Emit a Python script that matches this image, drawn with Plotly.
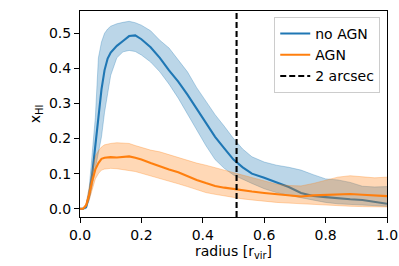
import plotly.graph_objects as go

# ---- data ----
radius = [0.0, 0.01, 0.02, 0.03, 0.04, 0.05, 0.06, 0.07, 0.08, 0.09, 0.10,
          0.12, 0.14, 0.16, 0.18, 0.20, 0.23, 0.26, 0.29, 0.32, 0.35, 0.38,
          0.41, 0.44, 0.47, 0.50, 0.53, 0.56, 0.60, 0.64, 0.68, 0.72, 0.76,
          0.80, 0.84, 0.88, 0.92, 0.96, 1.0]

noagn_mean = [0.0, 0.0, 0.005, 0.04, 0.10, 0.177, 0.26, 0.34, 0.395, 0.428, 0.445,
              0.464, 0.478, 0.492, 0.494, 0.483, 0.46, 0.43, 0.394, 0.362, 0.325, 0.285,
              0.243, 0.205, 0.172, 0.14, 0.118, 0.10, 0.088, 0.075, 0.062, 0.045, 0.036,
              0.033, 0.029, 0.027, 0.025, 0.02, 0.014]
noagn_upper = [0.0, 0.0, 0.012, 0.06, 0.16, 0.26, 0.43, 0.475, 0.50, 0.512, 0.52,
               0.527, 0.531, 0.534, 0.53, 0.523, 0.507, 0.48, 0.458, 0.425, 0.39, 0.345,
               0.305, 0.268, 0.235, 0.20, 0.17, 0.148, 0.133, 0.124, 0.118, 0.11, 0.097,
               0.085, 0.082, 0.075, 0.064, 0.062, 0.063]
noagn_lower = [0.0, 0.0, 0.0, 0.025, 0.065, 0.115, 0.16, 0.205, 0.275, 0.33, 0.38,
               0.43, 0.447, 0.451, 0.448, 0.438, 0.418, 0.39, 0.355, 0.315, 0.27, 0.225,
               0.18, 0.14, 0.115, 0.096, 0.083, 0.072, 0.057, 0.046, 0.038, 0.031, 0.024,
               0.018, 0.014, 0.012, 0.01, 0.008, 0.007]

agn_mean = [0.0, 0.0, 0.01, 0.04, 0.08, 0.112, 0.13, 0.142, 0.145, 0.146, 0.147,
            0.146, 0.147, 0.149, 0.145, 0.14, 0.13, 0.12, 0.112, 0.104, 0.092, 0.082,
            0.073, 0.065, 0.06, 0.056, 0.052, 0.049, 0.045, 0.042, 0.038, 0.035, 0.038,
            0.04, 0.042, 0.042, 0.04, 0.037, 0.036]
agn_upper = [0.0, 0.0, 0.015, 0.06, 0.11, 0.15, 0.165, 0.176, 0.182, 0.185, 0.186,
             0.188, 0.188, 0.186, 0.18, 0.174, 0.167, 0.162, 0.154, 0.145, 0.137, 0.13,
             0.124, 0.117, 0.11, 0.102, 0.095, 0.088, 0.078, 0.07, 0.066, 0.065, 0.072,
             0.082, 0.09, 0.094, 0.09, 0.088, 0.09]
agn_lower = [0.0, 0.0, 0.005, 0.025, 0.055, 0.085, 0.10, 0.11, 0.113, 0.115, 0.115,
             0.114, 0.112, 0.11, 0.106, 0.101, 0.094, 0.087, 0.079, 0.071, 0.063, 0.055,
             0.046, 0.041, 0.036, 0.032, 0.028, 0.025, 0.021, 0.018, 0.016, 0.014, 0.012,
             0.009, 0.008, 0.007, 0.006, 0.005, 0.005]

arcsec_radius = 0.51

x_ticks = [0.0, 0.2, 0.4, 0.6, 0.8, 1.0]
y_ticks = [0.0, 0.1, 0.2, 0.3, 0.4, 0.5]

# ---- styling ----
BLUE = "#1f77b4"
ORANGE = "#ff7f0e"
BLUE_FILL = "rgba(31,119,180,0.3)"
ORANGE_FILL = "rgba(255,127,14,0.3)"
Y_RANGE = [-0.0236, 0.5634]
X_RANGE = [0.0, 1.0]
FONT = "DejaVu Sans"

fig = go.Figure()

# no AGN band + line
fig.add_trace(go.Scatter(x=radius, y=noagn_lower, mode="lines",
                         line=dict(color=BLUE_FILL, width=1), showlegend=False,
                         hoverinfo="skip"))
fig.add_trace(go.Scatter(x=radius, y=noagn_upper, mode="lines", fill="tonexty",
                         fillcolor=BLUE_FILL, line=dict(color=BLUE_FILL, width=1),
                         showlegend=False, hoverinfo="skip"))
fig.add_trace(go.Scatter(x=radius, y=noagn_mean, mode="lines", name="no AGN",
                         line=dict(color=BLUE, width=2.1)))

# AGN band + line
fig.add_trace(go.Scatter(x=radius, y=agn_lower, mode="lines",
                         line=dict(color=ORANGE_FILL, width=1), showlegend=False,
                         hoverinfo="skip"))
fig.add_trace(go.Scatter(x=radius, y=agn_upper, mode="lines", fill="tonexty",
                         fillcolor=ORANGE_FILL, line=dict(color=ORANGE_FILL, width=1),
                         showlegend=False, hoverinfo="skip"))
fig.add_trace(go.Scatter(x=radius, y=agn_mean, mode="lines", name="AGN",
                         line=dict(color=ORANGE, width=2.1)))

# 2 arcsec vertical line
fig.add_trace(go.Scatter(x=[arcsec_radius, arcsec_radius], y=Y_RANGE, mode="lines",
                         name="2 arcsec",
                         line=dict(color="black", width=2.1, dash="6px,3px")))

axis_common = dict(showline=True, mirror=True, linecolor="black", linewidth=1.1,
                   ticks="outside", ticklen=5, tickwidth=1.1, tickcolor="black",
                   showgrid=False, zeroline=False, automargin=False,
                   tickfont=dict(family=FONT, size=14, color="black"))

fig.update_layout(
    width=399, height=266,
    margin=dict(l=80, r=12, t=11, b=49),
    paper_bgcolor="white", plot_bgcolor="white",
    font=dict(family=FONT, size=14, color="black"),
    xaxis=dict(range=X_RANGE, tickvals=x_ticks, tickformat=".1f",
               title=dict(text="radius [r<sub>vir</sub>]", standoff=4,
                          font=dict(family=FONT, size=14)),
               **axis_common),
    yaxis=dict(range=Y_RANGE, tickvals=y_ticks, tickformat=".1f",
               title=dict(text="x<sub>HI</sub>", standoff=4,
                          font=dict(family=FONT, size=14)),
               **axis_common),
    legend=dict(x=0.978, y=0.971, xanchor="right", yanchor="top",
                bgcolor="rgba(255,255,255,0.8)", bordercolor="#cccccc", borderwidth=1,
                font=dict(family=FONT, size=14, color="black"),
                tracegroupgap=0, itemwidth=30, traceorder="normal"),
    showlegend=True,
)

fig.write_html("out.html",
               config={"displayModeBar": False},
               post_script="document.body.style.margin='0';document.body.style.padding='0';")
